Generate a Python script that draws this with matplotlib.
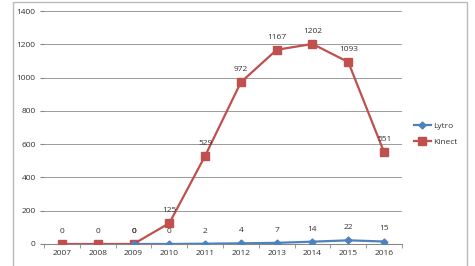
import matplotlib
matplotlib.use("Agg")
import matplotlib.pyplot as plt
from matplotlib.patches import Rectangle
import numpy as np

years = ["2007", "2008", "2009", "2010", "2011", "2012", "2013", "2014", "2015", "2016"]
lytro = [None, None, 0, 0, 2, 4, 7, 14, 22, 15]
kinect = [0, 0, 0, 125, 529, 972, 1167, 1202, 1093, 551]
yticks = [0, 200, 400, 600, 800, 1000, 1200, 1400]

plt.rcParams['font.family'] = ['Open Sans', 'DejaVu Sans']

W, H = 475, 266
fig = plt.figure(figsize=(W / 100, H / 100), dpi=100)
ax = fig.add_axes([44 / W, 1 - 244 / H, (402 - 44) / W, (244 - 11) / H])

x = np.arange(len(years))
blue = "#4F81BD"
red = "#C0504D"
fs = 6

lx = [i for i, v in enumerate(lytro) if v is not None]
lv = [v for v in lytro if v is not None]
ax.plot(lx, lv, color=blue, lw=1.6, marker="D", ms=3.5, label="Lytro", zorder=4)
ax.plot(x, kinect, color=red, lw=1.6, marker="s", ms=5.5, label="Kinect", zorder=3)

for i, v in zip(lx, lv):
    if i >= 3:
        ax.annotate(str(v), (i, v), xytext=(0, 6.5), textcoords="offset points",
                    ha="center", va="bottom", fontsize=fs, color="#333333")
for i, v in enumerate(kinect):
    ax.annotate(str(v), (i, v), xytext=(0, 6.5), textcoords="offset points",
                ha="center", va="bottom", fontsize=fs, color="#333333")
# overlapping label at 2009 for Lytro
ax.annotate("0", (2, 0), xytext=(0.5, 6.5), textcoords="offset points",
            ha="center", va="bottom", fontsize=fs, color="#333333")

ax.set_xlim(-0.5, len(years) - 0.5)
ax.set_ylim(0, 1400)
ax.set_yticks(yticks)
ax.set_yticklabels([str(t) for t in yticks], fontsize=fs, color="#333333")
ax.set_xticks(x)
ax.set_xticklabels(years, fontsize=fs, color="#333333")
ax.set_xticks(np.arange(-0.5, len(years), 1), minor=True)
ax.tick_params(axis="x", which="major", length=0, pad=4)
ax.tick_params(axis="x", which="minor", length=3, color="#888888", direction="out")
ax.tick_params(axis="y", length=3, color="#888888", pad=3)
ax.grid(axis="y", color="#9a9a9a", lw=0.7)
ax.set_axisbelow(True)
for s in ["top", "right", "left"]:
    ax.spines[s].set_visible(False)
ax.spines["bottom"].set_color("#888888")
ax.spines["bottom"].set_linewidth(0.8)

leg = ax.legend(loc="center left", bbox_to_anchor=(414 / W, 1 - 134 / H),
                bbox_transform=fig.transFigure, frameon=False, fontsize=fs,
                handlelength=2.0, handletextpad=0.3, labelspacing=0.9,
                borderpad=0, borderaxespad=0)
for t in leg.get_texts():
    t.set_color("#333333")

fig.patches.append(Rectangle((13 / W, -0.1), (467 - 13) / W, 1.1 - 2 / H,
                             transform=fig.transFigure, fill=False,
                             edgecolor="#bbbbbb", lw=1))

fig.savefig("out.png", dpi=100)
